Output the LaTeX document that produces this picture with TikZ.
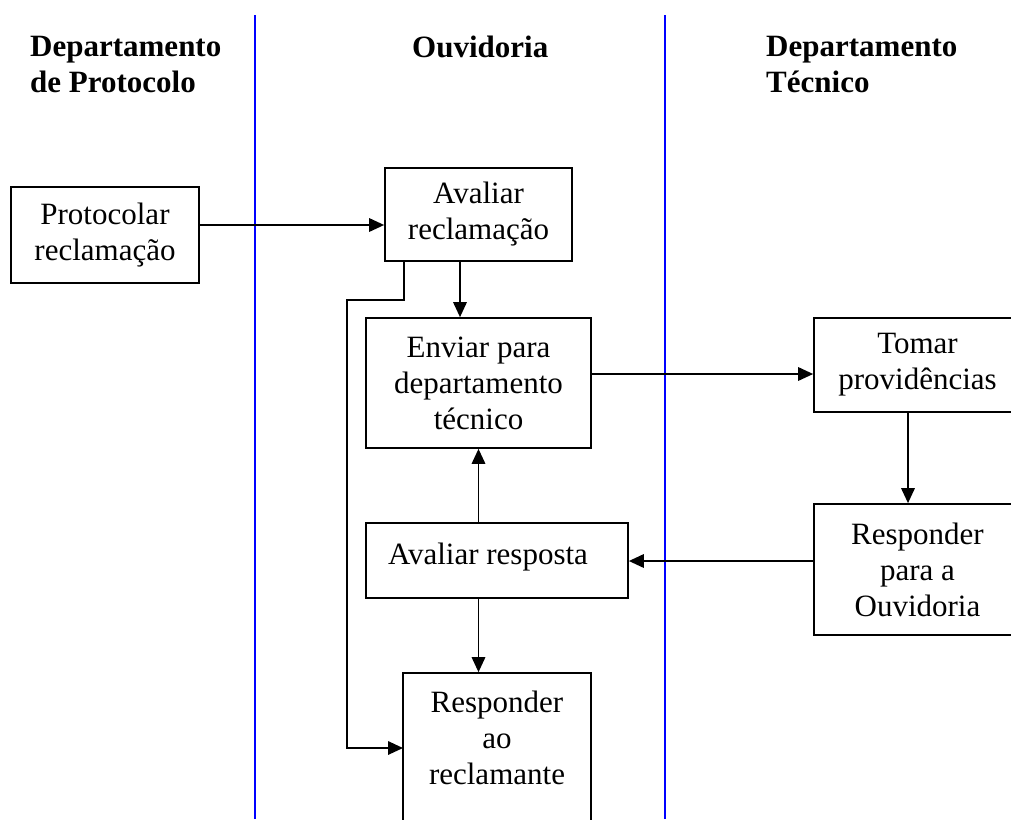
\documentclass[tikz,border=0pt]{standalone}
\usepackage{fontspec}
\setmainfont{Liberation Serif}
\usetikzlibrary{arrows.meta,calc}
\begin{document}
\begin{tikzpicture}[x=1pt,y=-1pt,
  stepbox/.style={draw=black, line width=1.7pt, inner sep=0pt, align=center,
    font=\fontsize{31}{36}\selectfont},
  boxtext/.style={inner sep=0pt, align=center, font=\fontsize{31}{36}\selectfont},
  flow/.style={line width=1.7pt, -{Triangle[length=15pt,width=13.5pt]}},
  lane/.style={draw=blue, line width=1.5pt},
  head/.style={inner sep=0pt, align=left, font=\bfseries\fontsize{31}{36}\selectfont}]
\useasboundingbox (0,0) rectangle (1011,819);
\fill[white] (0,0) rectangle (1011,819);
\clip (0,0) rectangle (1011,819);

% swimlane dividers
\draw[lane] (255,15) -- (255,819);
\draw[lane] (665,15) -- (665,819);

% lane titles
\node[head, anchor=north west] (h1) at (30,36) {Departamento\\de Protocolo};
\node[head, anchor=base west] (h2) at (412,57) {Ouvidoria};
\node[head, anchor=north west] (h3) at (766,36) {Departamento\\Técnico};

% process steps
\node[stepbox, minimum width=188pt, minimum height=96pt] (prot) at (105,235) {Protocolar\\reclamação};
\node[stepbox, minimum width=187pt, minimum height=93pt] (avr) at (478.5,214.5) {Avaliar\\reclamação};
\node[stepbox, minimum width=225pt, minimum height=130pt] (env) at (478.5,383) {Enviar para\\departamento\\técnico};
\node[stepbox, minimum width=207pt, minimum height=94pt] (tom) at (917.5,365) {Tomar\\providências};
\node[stepbox, minimum width=207pt, minimum height=131pt] (rpo) at (917.5,569.5) {Responder\\para a\\Ouvidoria};
\node[stepbox, minimum width=262pt, minimum height=75pt, text height=21pt, text depth=14pt] (ar) at (497,560.5) {\hbox{Avaliar resposta\kern18pt}};
\node[stepbox, minimum width=188pt, minimum height=227pt] (rr) at (497,786.5) {};
\node[boxtext, anchor=north] (rrtext) at (497,691) {Responder\\ao\\reclamante};

% bend points of the bypass line
\coordinate (lp1) at (404,300);
\coordinate (lp2) at (347,300);
\coordinate (rrin) at (403,748);

% connectors
\draw[flow] ($(prot.east)+(0,-10)$) coordinate (c1) -- (c1 -| avr.west);
\draw[flow] ($(avr.south)+(-18.5,0)$) coordinate (c2) -- (c2 |- env.north);
\draw[flow] (avr.south -| lp1) -- (lp1) -- (lp2) |- (rrin);
\draw[flow] ($(env.east)+(0,-9)$) coordinate (c3) -- (c3 -| tom.west);
\draw[flow] ($(tom.south)+(-9.5,0)$) coordinate (c4) -- (c4 |- rpo.north);
\draw[flow] ($(rpo.west)+(0,-8.5)$) coordinate (c5) -- (c5 -| ar.east);
\draw[flow] (ar.north -| env.south) -- (env.south);
\draw[flow] (ar.south -| env.south) -- (env.south |- rr.north);
\end{tikzpicture}
\end{document}
